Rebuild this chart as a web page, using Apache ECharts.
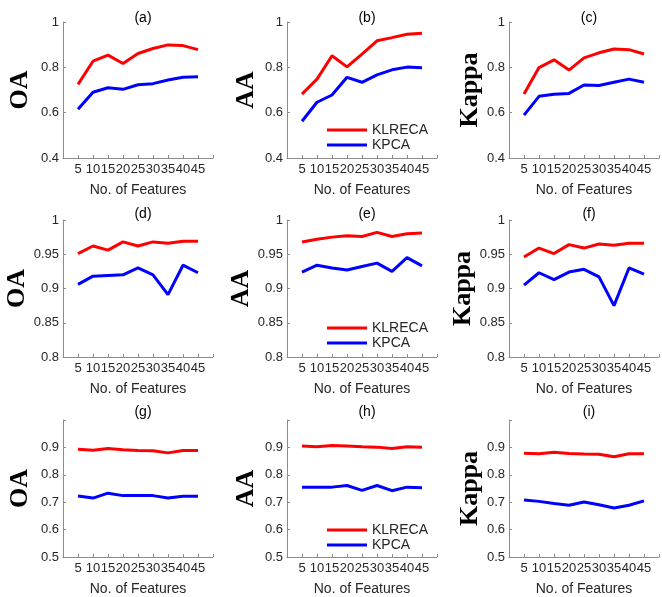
<!DOCTYPE html>
<html>
<head>
<meta charset="utf-8">
<script src="https://cdn.jsdelivr.net/npm/echarts@6/dist/echarts.min.js"></script>
<style>html,body{margin:0;padding:0;background:#fff}#c{width:662px;height:597px}</style>
</head>
<body>
<div id="c"></div>
<script>
const features = [5, 10, 15, 20, 25, 30, 35, 40, 45];
const panelTitles = ['(a)', '(b)', '(c)', '(d)', '(e)', '(f)', '(g)', '(h)', '(i)'];
const yNames = ['OA', 'AA', 'Kappa'];
const seriesNames = ['KLRECA', 'KPCA'];

// row 1
const klreca_a = [0.725, 0.827, 0.854, 0.817, 0.861, 0.883, 0.899, 0.896, 0.878];
const kpca_a   = [0.615, 0.690, 0.710, 0.703, 0.723, 0.728, 0.744, 0.756, 0.758];
const klreca_b = [0.682, 0.748, 0.851, 0.802, 0.858, 0.917, 0.931, 0.946, 0.950];
const kpca_b   = [0.562, 0.646, 0.678, 0.756, 0.734, 0.767, 0.789, 0.801, 0.798];
const klreca_c = [0.682, 0.799, 0.833, 0.788, 0.842, 0.864, 0.881, 0.878, 0.859];
const kpca_c   = [0.589, 0.672, 0.681, 0.685, 0.722, 0.720, 0.734, 0.748, 0.734];
// row 2
const klreca_d = [0.951, 0.962, 0.956, 0.968, 0.962, 0.968, 0.966, 0.969, 0.969];
const kpca_d   = [0.906, 0.918, 0.919, 0.920, 0.930, 0.920, 0.891, 0.934, 0.923];
const klreca_e = [0.968, 0.972, 0.975, 0.977, 0.976, 0.982, 0.976, 0.980, 0.981];
const kpca_e   = [0.924, 0.934, 0.930, 0.927, 0.932, 0.937, 0.925, 0.945, 0.933];
const klreca_f = [0.946, 0.959, 0.951, 0.964, 0.959, 0.965, 0.963, 0.966, 0.966];
const kpca_f   = [0.905, 0.923, 0.913, 0.924, 0.928, 0.917, 0.875, 0.930, 0.921];
// row 3
const klreca_g = [0.893, 0.890, 0.896, 0.891, 0.889, 0.888, 0.880, 0.889, 0.889];
const kpca_g   = [0.723, 0.715, 0.733, 0.724, 0.724, 0.724, 0.715, 0.722, 0.722];
const klreca_h = [0.905, 0.902, 0.907, 0.905, 0.902, 0.901, 0.896, 0.902, 0.901];
const kpca_h   = [0.755, 0.755, 0.755, 0.761, 0.743, 0.761, 0.742, 0.755, 0.753];
const klreca_i = [0.879, 0.877, 0.882, 0.878, 0.876, 0.875, 0.866, 0.877, 0.877];
const kpca_i   = [0.708, 0.703, 0.695, 0.689, 0.701, 0.691, 0.679, 0.689, 0.705];

const panels = [
  [klreca_a, kpca_a], [klreca_b, kpca_b], [klreca_c, kpca_c],
  [klreca_d, kpca_d], [klreca_e, kpca_e], [klreca_f, kpca_f],
  [klreca_g, kpca_g], [klreca_h, kpca_h], [klreca_i, kpca_i]
];

const rowMin = [0.4, 0.8, 0.5];
const rowMax = [1, 1, 1];
const rowInterval = [0.2, 0.05, 0.1];
const rowHideTop = [false, false, true];

const colLeft = [63, 287, 509];
const colNameGap = [30, 28, 22];
const rowTop = [22, 220, 420];
const rowHeight = [136, 137, 138];
const plotWidth = 150;
const titleTop = [6, 202, 400];

const axisColor = '#8c8c8c';
const textColor = '#262626';
const sans = 'Liberation Sans, Arial, sans-serif';
const serif = 'Liberation Serif, Times New Roman, serif';

const grid = [], xAxis = [], yAxis = [], series = [], title = [];
for (let r = 0; r < 3; r++) {
  for (let c = 0; c < 3; c++) {
    const i = r * 3 + c;
    grid.push({left: colLeft[c], top: rowTop[r], width: plotWidth, height: rowHeight[r], containLabel: false});
    title.push({
      text: panelTitles[i], left: colLeft[c] + plotWidth / 2, top: titleTop[r], textAlign: 'center',
      textStyle: {fontFamily: sans, fontSize: 14, fontWeight: 'normal', color: '#000'}
    });
    xAxis.push({
      type: 'value', gridIndex: i, min: 0, max: 50, interval: 5,
      name: 'No. of Features', nameLocation: 'middle', nameGap: 25,
      nameTextStyle: {fontFamily: sans, fontSize: 14, color: textColor},
      axisLine: {show: true, lineStyle: {color: axisColor, width: 1}},
      axisTick: {show: true, inside: true, length: 3, lineStyle: {color: axisColor}},
      splitLine: {show: false},
      axisLabel: {
        fontFamily: sans, fontSize: 13, color: textColor, margin: 5,
        formatter: v => (v === 0 || v === 50) ? '' : String(v)
      }
    });
    const hideTop = rowHideTop[r];
    yAxis.push({
      type: 'value', gridIndex: i, min: rowMin[r], max: rowMax[r], interval: rowInterval[r],
      name: yNames[c], nameLocation: 'middle', nameGap: colNameGap[c],
      nameTextStyle: {fontFamily: serif, fontSize: 26, fontWeight: 'bold', color: '#000'},
      axisLine: {show: true, lineStyle: {color: axisColor, width: 1}},
      axisTick: {show: true, inside: true, length: 3, lineStyle: {color: axisColor}},
      splitLine: {show: false},
      axisLabel: {
        fontFamily: sans, fontSize: 13, color: textColor, margin: 4,
        formatter: v => (hideTop && Math.abs(v - 1) < 1e-9) ? '' : String(+v.toFixed(3))
      }
    });
    const colors = ['#ff0000', '#0000ff'];
    for (let s = 0; s < 2; s++) {
      series.push({
        type: 'line', name: seriesNames[s], xAxisIndex: i, yAxisIndex: i,
        data: features.map((f, k) => [f, panels[i][s][k]]),
        showSymbol: false, symbol: 'none', lineStyle: {color: colors[s], width: 3},
        itemStyle: {color: colors[s]}, animation: false
      });
    }
  }
}

const legendTops = [123, 321, 523];
const legend = legendTops.map(t => ({
  data: seriesNames, orient: 'vertical', left: 327, top: t,
  icon: 'rect', itemWidth: 40, itemHeight: 3, itemGap: 1,
  textStyle: {fontFamily: sans, fontSize: 14, color: textColor},
  selectedMode: false, padding: 0
}));

const chart = echarts.init(document.getElementById('c'), null, {renderer: 'canvas'});
chart.setOption({backgroundColor: '#fff', animation: false, title, grid, xAxis, yAxis, series, legend});
</script>
</body>
</html>
